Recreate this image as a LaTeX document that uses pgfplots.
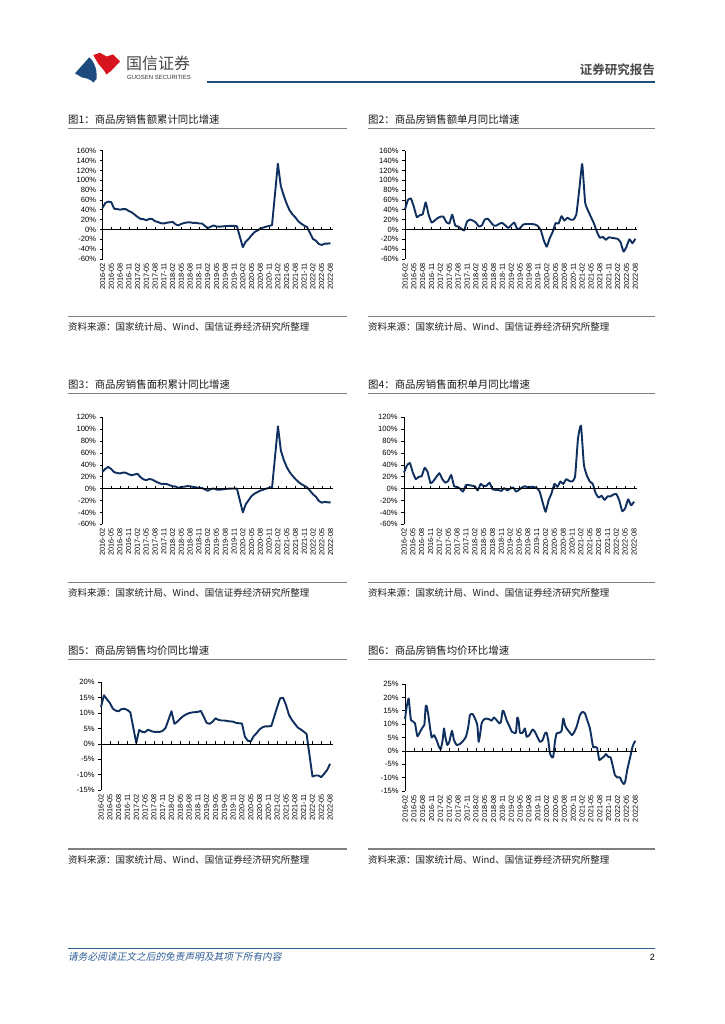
\documentclass[border=0pt]{standalone}
\usepackage{fontspec}
\usepackage{pgfplots}
\pgfplotsset{compat=1.18}
\setmainfont{Liberation Sans}
\newfontfamily\cjk{Noto Sans CJK SC}
\newfontfamily\cjkb{Noto Sans CJK SC Bold}
\newfontfamily\cjkit{Noto Sans CJK SC}[FakeSlant=0.2]
\definecolor{navy}{HTML}{0F2F5E}
\definecolor{hdrblue}{HTML}{1F4E79}
\definecolor{logoblue}{HTML}{1D4B80}
\definecolor{logored}{HTML}{D7141E}
\definecolor{ftblue}{HTML}{2E5C94}
\definecolor{sepgray}{HTML}{808080}

\pgfplotsset{
  ser/.style={navy, line width=1.9pt, no markers, line join=round},
  chart/.style={
    scale only axis,
    anchor=south west,
    axis y line*=left,
    axis x line*=bottom,
    x axis line style={draw=none},
    xtick style={draw=none},
    ytick style={draw=black, line width=0.6pt},
    y axis line style={line width=0.7pt},
    tick align=outside,
    major tick length=2.8pt,
    xmin=0,
    xtick={0,3,...,78},
    xticklabels={2016-02,2016-05,2016-08,2016-11,2017-02,2017-05,2017-08,2017-11,2018-02,2018-05,2018-08,2018-11,2019-02,2019-05,2019-08,2019-11,2020-02,2020-05,2020-08,2020-11,2021-02,2021-05,2021-08,2021-11,2022-02,2022-05,2022-08},
    xticklabel style={rotate=90, anchor=east, font=\fontsize{7.3}{7.3}\selectfont, inner sep=1.2pt},
    yticklabel style={font=\fontsize{7.6}{7.6}\selectfont},
    yticklabel={\pgfmathparse{int(round(\tick))}\pgfmathresult\%},
    clip=false,
  },
}
\newcommand{\zeroline}[1]{%
  \draw[black, line width=0.7pt] (axis cs:0,0) -- (axis cs:#1,0);
  \pgfplotsinvokeforeach{0,3,...,78}{\draw[black, line width=0.6pt] (axis cs:##1,0) -- ++(0pt,2.8pt);}
}

\begin{document}
\begin{tikzpicture}
\fill[white] (0pt,0pt) rectangle (724pt,-1024pt);
\path[use as bounding box] (0pt,0pt) rectangle (724pt,-1024pt);

% ---------- header ----------
\fill[logoblue] (75pt,-73.3pt) -- (89.3pt,-57.3pt) .. controls (92pt,-59pt) and (93pt,-62pt) .. (94.5pt,-65pt) .. controls (96pt,-68pt) and (97pt,-72pt) .. (96.5pt,-79pt) -- (93.5pt,-82.5pt) .. controls (90pt,-79pt) and (86pt,-78pt) .. (82pt,-77.5pt) -- cycle;
\fill[logored] (93.3pt,-55pt) -- (100pt,-52.8pt) -- (106.5pt,-56.5pt) -- (113pt,-54.5pt) -- (120pt,-61.5pt) -- (111pt,-71pt) -- (106.5pt,-74.5pt) .. controls (104pt,-70pt) and (101pt,-67pt) .. (98.5pt,-64pt) .. controls (96.5pt,-61pt) and (95pt,-58pt) .. (93.3pt,-55pt) -- cycle;
\node[anchor=west, inner sep=0pt, text=black!72] at (126pt,-63.8pt) {\cjk\fontsize{16}{16}\selectfont 国信证券};
\node[anchor=west, inner sep=0pt, text=black!80] at (127pt,-77.5pt) {\fontsize{6}{6}\selectfont GUOSEN SECURITIES};
\draw[hdrblue, line width=2pt] (207pt,-81.7pt) -- (655pt,-81.7pt);
\node[anchor=east, inner sep=0pt, text=black!72] at (655pt,-70pt) {\cjkb\fontsize{12.5}{12.5}\selectfont 证券研究报告};

% ---------- titles, separators, sources ----------
\foreach \ty/\ly/\sy/\st in {120/128.3/316.7/326.7, 385/393.3/582.3/593.3, 651/659.3/849/860}{
  \draw[sepgray, line width=1.1pt] (68pt,-\ly pt) -- (347pt,-\ly pt);
  \draw[sepgray, line width=1.1pt] (368pt,-\ly pt) -- (655pt,-\ly pt);
  \draw[sepgray, line width=1.1pt] (68pt,-\sy pt) -- (347pt,-\sy pt);
  \draw[sepgray, line width=1.1pt] (368pt,-\sy pt) -- (655pt,-\sy pt);
  \node[anchor=west, inner sep=0pt, text=black!88] at (68pt,-\st pt) {\cjk\fontsize{9.5}{9.5}\selectfont 资料来源：国家统计局、Wind、国信证券经济研究所整理};
  \node[anchor=west, inner sep=0pt, text=black!88] at (368pt,-\st pt) {\cjk\fontsize{9.5}{9.5}\selectfont 资料来源：国家统计局、Wind、国信证券经济研究所整理};
}
\node[anchor=west, inner sep=0pt, text=black!90] at (68pt,-120pt) {\cjk\fontsize{10.4}{10.4}\selectfont 图1：商品房销售额累计同比增速};
\node[anchor=west, inner sep=0pt, text=black!90] at (368pt,-120pt) {\cjk\fontsize{10.4}{10.4}\selectfont 图2：商品房销售额单月同比增速};
\node[anchor=west, inner sep=0pt, text=black!90] at (68pt,-385pt) {\cjk\fontsize{10.4}{10.4}\selectfont 图3：商品房销售面积累计同比增速};
\node[anchor=west, inner sep=0pt, text=black!90] at (368pt,-385pt) {\cjk\fontsize{10.4}{10.4}\selectfont 图4：商品房销售面积单月同比增速};
\node[anchor=west, inner sep=0pt, text=black!90] at (68pt,-651pt) {\cjk\fontsize{10.4}{10.4}\selectfont 图5：商品房销售均价同比增速};
\node[anchor=west, inner sep=0pt, text=black!90] at (368pt,-651pt) {\cjk\fontsize{10.4}{10.4}\selectfont 图6：商品房销售均价环比增速};

% ---------- footer ----------
\draw[ftblue, line width=0.9pt] (68pt,-948.3pt) -- (655pt,-948.3pt);
\node[anchor=west, inner sep=0pt, text=ftblue] at (68pt,-956.7pt) {\cjkit\fontsize{9.7}{9.7}\selectfont 请务必阅读正文之后的免责声明及其项下所有内容};
\node[anchor=east, inner sep=0pt] at (655pt,-957pt) {\fontsize{9}{9}\selectfont 2};

% ---------- Chart 1 ----------
\begin{axis}[chart, at={(102.5pt,-259pt)}, width=230.5pt, height=108.3pt,
  xmax=78.86, ymin=-60, ymax=160, ytick={-60,-40,...,160}]
\addplot[ser] coordinates {
(0,43.6)(1,54.1)(2,56.5)(3,55.5)(4,42.1)(5,41.3)(6,40.3)(7,41.3)(8,41.2)(9,37.5)(10,34.8)
(12,25.4)(13,21.5)(14,21.0)(15,18.6)(16,21.5)(17,21.3)(18,16.6)(19,15.1)(20,12.6)(21,12.2)(22,13.7)
(24,15.3)(25,10.4)(26,8.3)(27,11.5)(28,13.2)(29,14.4)(30,14.5)(31,13.3)(32,13.6)(33,12.1)(34,12.2)
(36,2.8)(37,5.6)(38,8.1)(39,6.1)(40,5.6)(41,6.2)(42,6.7)(43,7.1)(44,7.3)(45,7.3)(46,6.5)
(48,-35.9)(49,-24.7)(50,-19.3)(51,-11.6)(52,-5.4)(53,-2.1)(54,1.6)(55,3.7)(56,5.8)(57,7.2)(58,8.7)
(60,133.4)(61,88.5)(62,68.8)(63,52.4)(64,38.9)(65,30.7)(66,24.5)(67,16.6)(68,11.8)(69,8.0)(70,4.8)
(72,-19.3)(73,-22.7)(74,-29.5)(75,-31.5)(76,-28.9)(77,-28.8)(78,-27.9)};
\zeroline{78.86}
\end{axis}

% ---------- Chart 2 ----------
\begin{axis}[chart, at={(405pt,-259pt)}, width=231.7pt, height=108.3pt,
  xmax=78.46, ymin=-60, ymax=160, ytick={-60,-40,...,160}]
\addplot[ser, smooth, tension=0.25] coordinates {
(0,41)(1,60)(2,63)(3,46)(4,25)(5,29)(6,31)(7,55)(8,30)(9,14)(10,18)(11,23)(12,26)(13,26)(14,15)(15,12)(16,30)(17,8)(18,6)(19,2)(20,-2)
(21,16)(22,20)(23,18)(24,14)(25,6)(26,8)(27,20)(28,22)(29,15)(30,8)(31,8)(32,12)(33,13)(34,8)(35,3)(36,9)(37,14)(38,1)(39,3)(40,10)
(41,11)(42,11)(43,11)(44,10)(45,7)(46,-2)(47,-22)(48,-35)(49,-18)(50,-5)(51,13)(52,12)(53,27)(54,18)(55,24)(56,20)(57,20)(58,30)(59,80)(60,133)
(61,55)(62,38)(63,25)(64,12)(65,-5)(66,-17)(67,-15)(68,-21)(69,-16)(70,-17)(71,-18)(72,-19)(73,-26)(74,-45)(75,-35)(76,-20)(77,-28)(78,-19)};
\zeroline{78.46}
\end{axis}

% ---------- Chart 3 ----------
\begin{axis}[chart, at={(102.3pt,-524.3pt)}, width=230.7pt, height=107pt,
  xmax=78.8, ymin=-60, ymax=120, ytick={-60,-40,...,120}]
\addplot[ser] coordinates {
(0,28.2)(1,33.1)(2,36.5)(3,33.2)(4,27.9)(5,26.4)(6,25.5)(7,26.9)(8,26.8)(9,24.3)(10,22.5)
(12,25.1)(13,19.5)(14,15.7)(15,14.3)(16,16.1)(17,15.4)(18,12.7)(19,10.3)(20,8.2)(21,7.9)(22,7.7)
(24,4.1)(25,3.6)(26,1.3)(27,2.9)(28,3.3)(29,4.2)(30,4.0)(31,2.9)(32,2.2)(33,1.4)(34,1.3)
(36,-3.6)(37,-0.9)(38,0.3)(39,-1.6)(40,-1.8)(41,-1.3)(42,-0.6)(43,-0.1)(44,0.1)(45,0.2)(46,-0.1)
(48,-39.9)(49,-26.3)(50,-19.3)(51,-12.3)(52,-8.4)(53,-5.8)(54,-3.3)(55,-1.8)(56,0.0)(57,1.3)(58,2.6)
(60,104.9)(61,63.8)(62,48.1)(63,36.3)(64,27.7)(65,21.5)(66,15.9)(67,11.3)(68,7.5)(69,4.8)(70,1.9)
(72,-9.6)(73,-13.8)(74,-20.9)(75,-23.6)(76,-22.2)(77,-23.1)(78,-23.0)};
\zeroline{78.8}
\end{axis}

% ---------- Chart 4 ----------
\begin{axis}[chart, at={(404pt,-524.3pt)}, width=232.7pt, height=107pt,
  xmax=78.9, ymin=-60, ymax=120, ytick={-60,-40,...,120}]
\addplot[ser, smooth, tension=0.25] coordinates {
(0,27)(1,39)(2,43)(3,27)(4,16)(5,20)(6,21)(7,35)(8,28)(9,9)(10,13)(11,20)(12,26)(13,16)(14,10)(15,13)(16,23)(17,4)(18,3)(19,0)(20,-5)
(21,6)(22,6)(23,5)(24,4)(25,-3)(26,8)(27,4)(28,5)(29,10)(30,-1)(31,-2)(32,-2)(33,-4)(34,1)(35,-3)(36,0)(37,2)(38,-5)(39,-2)(40,2)
(41,4)(42,2)(43,3)(44,3)(45,1)(46,-5)(47,-23)(48,-39)(49,-20)(50,-8)(51,8)(52,3)(53,12)(54,8)(55,16)(56,13)(57,12)(58,20)(59,85)(60,106)
(61,40)(62,22)(63,12)(64,8)(65,-8)(66,-15)(67,-12)(68,-19)(69,-13)(70,-13)(71,-10)(72,-9)(73,-20)(74,-38)(75,-33)(76,-18)(77,-28)(78,-22)};
\zeroline{78.9}
\end{axis}

% ---------- Chart 5 ----------
\begin{axis}[chart, at={(101pt,-790pt)}, width=232.3pt, height=107.7pt,
  xmax=79.1, ymin=-15, ymax=20, ytick={-15,-10,...,20}]
\addplot[ser] coordinates {
(0,12)(1,15.8)(2,14.5)(3,13.3)(4,11.5)(5,10.8)(6,10.6)(7,11.3)(8,11.4)(9,11.0)(10,10.2)
(12,0.3)(13,4.5)(14,3.9)(15,3.8)(16,4.6)(17,4.2)(18,3.9)(19,3.9)(20,3.9)(21,4.2)(22,5.2)
(24,10.6)(25,6.5)(26,7.2)(27,8.2)(28,9.0)(29,9.6)(30,10.0)(31,10.2)(32,10.3)(33,10.4)(34,10.7)
(36,6.8)(37,6.5)(38,7.2)(39,8.3)(40,7.8)(41,7.6)(42,7.6)(43,7.4)(44,7.3)(45,7.2)(46,6.8)
(48,6.6)(49,2.3)(50,1.0)(51,0.8)(52,2.5)(53,3.5)(54,4.7)(55,5.4)(56,5.7)(57,5.7)(58,5.8)
(60,12.0)(61,14.8)(62,15.0)(63,12.6)(64,9.4)(65,7.8)(66,6.5)(67,5.3)(68,4.7)(69,4.0)(70,3.2)
(72,-10.6)(73,-10.3)(74,-10.3)(75,-10.8)(76,-9.7)(77,-8.5)(78,-6.5)};
\zeroline{79.1}
\end{axis}

% ---------- Chart 6 ----------
\begin{axis}[chart, at={(405pt,-791pt)}, width=232pt, height=107pt,
  xmax=78.6, ymin=-15, ymax=25, ytick={-15,-10,...,25}]
\addplot[ser, smooth, tension=0.3] coordinates {
(0.00,11.9)(0.56,16.5)(1.24,19.6)(1.69,14.6)(2.03,11.5)(2.82,10.9)(3.39,10.3)(4.18,5.5)(5.08,7.1)(5.98,8.8)(6.55,9.7)(7.00,16.5)(7.34,16.7)(7.90,13.4)(8.47,8.8)(9.03,5.0)(9.82,5.9)(10.72,4.0)(11.40,1.8)(12.08,0.6)(12.75,4.0)(13.21,8.4)(13.66,5.3)(14.33,2.2)(15.01,3.4)(15.91,7.5)(16.59,4.0)(17.49,2.2)(18.62,2.6)(19.75,3.8)(20.65,5.3)(21.44,9.0)(22.01,13.4)(22.91,13.8)(23.70,12.1)(24.49,9.7)(24.94,3.4)(25.40,5.9)(25.96,10.3)(26.75,11.8)(27.65,12.1)(28.56,11.8)(29.35,11.3)(30.14,12.5)(31.04,11.5)(31.94,10.3)(32.51,10.9)(33.07,15.0)(33.52,14.6)(34.42,11.5)(35.33,9.3)(36.23,7.1)(36.91,6.8)(37.58,6.8)(38.04,12.5)(38.49,11.3)(38.94,6.8)(39.84,6.8)(40.63,8.4)(41.20,5.3)(42.10,5.9)(43.23,8.0)(44.02,7.1)(44.81,5.3)(45.71,3.4)(46.61,4.0)(47.40,6.5)(47.97,6.8)(48.53,4.0)(49.10,-0.9)(49.77,-2.4)(50.23,-2.2)(50.79,3.4)(51.35,6.5)(52.26,6.8)(53.05,7.5)(53.61,12.1)(54.18,9.7)(54.74,8.4)(55.64,7.1)(56.55,5.9)(57.22,6.8)(58.13,9.0)(59.26,13.4)(60.16,14.6)(60.95,14.0)(61.74,11.5)(62.64,8.4)(63.32,4.0)(63.77,1.3)(64.45,1.6)(65.12,1.0)(65.80,-3.4)(66.59,-2.8)(67.38,-2.2)(68.06,-1.2)(68.85,-2.2)(69.64,-2.4)(70.32,-5.3)(71.11,-9.0)(71.90,-9.9)(72.80,-9.9)(73.48,-11.5)(74.15,-12.4)(74.60,-11.5)(75.28,-7.2)(76.19,-2.8)(77.09,1.6)(77.99,3.8)};
\zeroline{78.6}
\end{axis}
\end{tikzpicture}
\end{document}
